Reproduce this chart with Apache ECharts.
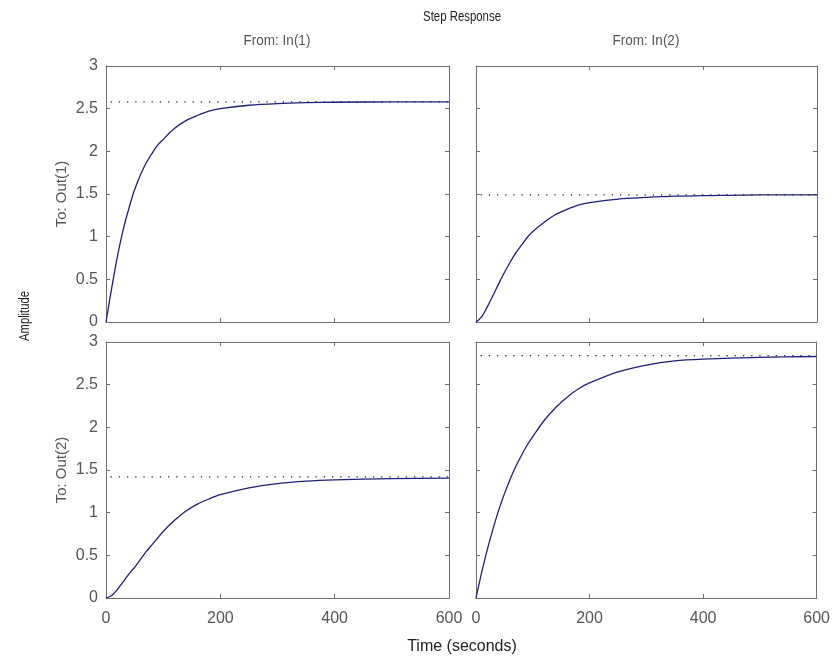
<!DOCTYPE html>
<html>
<head>
<meta charset="utf-8">
<title>Step Response</title>
<script src="https://cdn.jsdelivr.net/npm/echarts@6/dist/echarts.min.js"></script>
<style>
  html, body { margin: 0; padding: 0; background: #fff; }
  #chart { width: 833px; height: 668px; }
</style>
</head>
<body>
<div id="chart"></div>
<script>
// Sample times (seconds) shared by all four responses
const time = [0, 10, 20, 30, 40, 50, 60, 70, 80, 90, 100, 120, 140, 160, 180, 200, 250, 300, 350, 400, 500, 600];

// Step responses, one per input/output pair
const in1ToOut1 = [0, 0.40, 0.77, 1.08, 1.33, 1.55, 1.72, 1.86, 1.97, 2.07, 2.14, 2.27, 2.36, 2.42, 2.47, 2.50, 2.54, 2.56, 2.57, 2.575, 2.58, 2.58];
const in2ToOut1 = [0, 0.06, 0.18, 0.31, 0.45, 0.58, 0.70, 0.81, 0.90, 0.99, 1.06, 1.17, 1.26, 1.32, 1.37, 1.40, 1.44, 1.46, 1.475, 1.48, 1.49, 1.49];
const in1ToOut2 = [0, 0.03, 0.10, 0.19, 0.28, 0.36, 0.45, 0.54, 0.62, 0.70, 0.78, 0.91, 1.02, 1.10, 1.16, 1.21, 1.29, 1.34, 1.37, 1.385, 1.40, 1.405];
const in2ToOut2 = [0, 0.30, 0.57, 0.81, 1.03, 1.22, 1.39, 1.54, 1.67, 1.79, 1.89, 2.08, 2.23, 2.35, 2.45, 2.52, 2.65, 2.73, 2.78, 2.80, 2.82, 2.83];

// Steady-state levels (dotted reference lines)
const steadyState = [2.58, 1.49, 1.42, 2.84];
const steadyStart = 8;

// Axis ranges and tick labels
const xTicks = [0, 200, 400, 600];
const yTicks = [0, 0.5, 1, 1.5, 2, 2.5, 3];

const responses = [in1ToOut1, in2ToOut1, in1ToOut2, in2ToOut2];

const textColor = '#555';
const boxColor = '#6e6e6e';
const curveColor = '#1e1e7c';
const fontFamily = '"Liberation Sans", Arial, sans-serif';

// Panel placement: [left, top, width, height]
const panels = [
  [106, 66, 343, 256],
  [476, 66, 341, 256],
  [106, 342, 343, 256],
  [476, 342, 341, 256]
];

const grids = [], xAxes = [], yAxes = [], series = [];

panels.forEach((p, i) => {
  grids.push({ left: p[0], top: p[1], width: p[2], height: p[3], show: false });
  const bottomRow = i >= 2;
  const leftCol = i % 2 === 0;
  const common = {
    gridIndex: i, type: 'value',
    axisLine: { show: true, onZero: false, lineStyle: { color: boxColor, width: 1 } },
    axisTick: { show: true, inside: true, length: 4, lineStyle: { color: boxColor } },
    splitLine: { show: false }
  };
  // bottom and top x axes
  xAxes.push(Object.assign({}, common, {
    position: 'bottom', min: xTicks[0], max: xTicks[xTicks.length - 1], interval: xTicks[1] - xTicks[0],
    axisLabel: { show: bottomRow, color: textColor, fontSize: 16, fontFamily, margin: 13,
      showMinLabel: true, showMaxLabel: true }
  }));
  xAxes.push(Object.assign({}, common, {
    position: 'top', min: xTicks[0], max: xTicks[xTicks.length - 1], interval: xTicks[1] - xTicks[0],
    axisLabel: { show: false }
  }));
  // left and right y axes
  yAxes.push(Object.assign({}, common, {
    position: 'left', min: yTicks[0], max: yTicks[yTicks.length - 1], interval: yTicks[1] - yTicks[0],
    axisLabel: { show: leftCol, color: textColor, fontSize: 16, fontFamily, margin: 8 }
  }));
  yAxes.push(Object.assign({}, common, {
    position: 'right', min: yTicks[0], max: yTicks[yTicks.length - 1], interval: yTicks[1] - yTicks[0],
    axisLabel: { show: false }
  }));

  series.push({
    type: 'line', xAxisIndex: i * 2, yAxisIndex: i * 2,
    data: time.map((t, k) => [t, responses[i][k]]),
    smooth: 0.3, showSymbol: false, symbol: 'none',
    lineStyle: { color: curveColor, width: 1.3 },
    animation: false, z: 3
  });
  series.push({
    type: 'line', xAxisIndex: i * 2, yAxisIndex: i * 2,
    data: [[steadyStart, steadyState[i]], [xTicks[xTicks.length - 1], steadyState[i]]],
    showSymbol: false, symbol: 'none',
    lineStyle: { color: '#222', width: 1.3, type: [1.3, 6.9] },
    animation: false, z: 2
  });
});

// Text label; squeeze < 1 condenses the glyphs horizontally (along the reading direction)
const label = (text, x, y, opts = {}) => {
  const rot = opts.rotation || 0;
  const squeeze = opts.squeeze || 1;
  return {
    type: 'text', x, y, rotation: rot,
    scaleX: squeeze, scaleY: 1,
    style: {
      text, fill: opts.fill || textColor,
      font: (opts.size || 13) + 'px ' + fontFamily,
      textAlign: 'center', textVerticalAlign: 'middle'
    }
  };
};

const chart = echarts.init(document.getElementById('chart'), null, { renderer: 'canvas' });
chart.setOption({
  backgroundColor: '#fff',
  animation: false,
  grid: grids,
  xAxis: xAxes,
  yAxis: yAxes,
  series,
  graphic: [
    label('Step Response', 462, 17, { fill: '#222', size: 15, squeeze: 0.76 }),
    label('From: In(1)', 277, 41, { size: 15, squeeze: 0.9 }),
    label('From: In(2)', 646, 41, { size: 15, squeeze: 0.9 }),
    label('To: Out(1)', 62, 194, { rotation: Math.PI / 2, size: 15 }),
    label('To: Out(2)', 62, 470, { rotation: Math.PI / 2, size: 15 }),
    label('Amplitude', 25, 316, { rotation: Math.PI / 2, fill: '#222', size: 14, squeeze: 0.8 }),
    label('Time (seconds)', 462, 647, { fill: '#222', size: 16 })
  ]
});
</script>
</body>
</html>
